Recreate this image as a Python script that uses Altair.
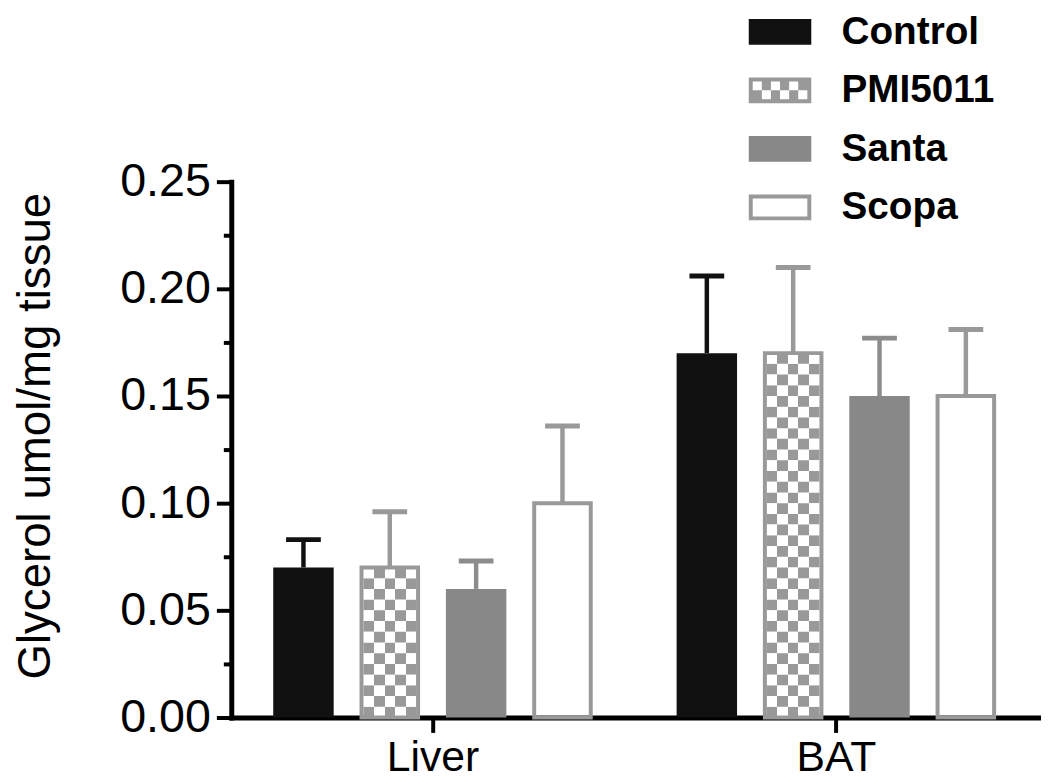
import altair as alt
import pandas as pd

# ---------------- data ----------------
tissues = ["Liver", "BAT"]
groups = ["Control", "PMI5011", "Santa", "Scopa"]
liver_mean = [0.070, 0.070, 0.060, 0.100]
liver_sem = [0.013, 0.026, 0.013, 0.036]
bat_mean = [0.170, 0.170, 0.150, 0.150]
bat_sem = [0.036, 0.040, 0.027, 0.031]
y_ticks = [0.0, 0.05, 0.10, 0.15, 0.20, 0.25]
y_minor = [0.025, 0.075, 0.125, 0.175, 0.225]

# ---------------- style ----------------
FONT = "Liberation Sans"
BLACK = "#111111"
GRAY = "#999999"
DARK = "#888888"
WHITE = "#ffffff"
fill_of = {"Control": BLACK, "PMI5011": WHITE, "Santa": DARK, "Scopa": WHITE}
line_of = {"Control": BLACK, "PMI5011": GRAY, "Santa": "#8c8c8c", "Scopa": GRAY}

rows = []
for t, means, sems in [("Liver", liver_mean, liver_sem), ("BAT", bat_mean, bat_sem)]:
    for g, m, s in zip(groups, means, sems):
        rows.append(dict(tissue=t, group=g, mean=m, upper=m + s,
                         fill=fill_of[g], line=line_of[g]))
df = pd.DataFrame(rows)

# checker-pattern rows for the PMI5011 bars (derived from the bar values)
CELL = 0.005
cells = []
for r in rows:
    if r["group"] != "PMI5011":
        continue
    k = 0
    while k * CELL < r["mean"] - 1e-9:
        cells.append(dict(tissue=r["tissue"], group=r["group"], y0=k * CELL,
                          y1=min((k + 1) * CELL, r["mean"]), parity=k % 2))
        k += 1
cell_df = pd.DataFrame(cells)


def stripes(first, second, n=5):
    stops = []
    for j in range(n):
        c = first if j % 2 == 0 else second
        stops.append(alt.GradientStop(color=c, offset=j / n))
        stops.append(alt.GradientStop(color=c, offset=(j + 1) / n))
    return alt.LinearGradient(gradient="linear", stops=stops, x1=0, x2=1, y1=0, y2=0)


# legend swatch shapes (custom symbol paths)
HW, HH, T = 1.05, 0.433, 0.1333


def rect(x0, y0, x1, y1):
    return f"M{x0:.3f},{y0:.3f}H{x1:.3f}V{y1:.3f}H{x0:.3f}Z"


def hole(x0, y0, x1, y1):
    return f"M{x0:.3f},{y0:.3f}V{y1:.3f}H{x1:.3f}V{y0:.3f}Z"


solid_path = rect(-HW, -HH, HW, HH)
frame_path = solid_path + hole(-HW + T, -HH + T, HW - T, HH - T)
ix0, iy0 = -HW + T, -HH + T
cw = 2 * (HW - T) / 6
ch = 2 * (HH - T) / 2
checker_path = frame_path
for rr in range(2):
    for cc in range(6):
        if (rr + cc) % 2 == 1:
            checker_path += rect(ix0 + cc * cw, iy0 + rr * ch, ix0 + (cc + 1) * cw, iy0 + (rr + 1) * ch)
legend_paths = [solid_path, checker_path, solid_path, frame_path]
legend_fill = [BLACK, GRAY, DARK, GRAY]

# ---------------- scales / encodings ----------------
W, H = 813, 540
x_scale = alt.Scale(domain=tissues, paddingInner=0, paddingOuter=0)
off_scale = alt.Scale(domain=groups, paddingInner=0.3, paddingOuter=0.486)
y_scale = alt.Scale(domain=[0, 0.25], nice=False, zero=True)

x_axis = alt.Axis(title=None, orient="bottom", labelAngle=0, tickSize=15, tickWidth=4,
                  tickColor="black", domainWidth=5, domainColor="black", domainCap="square",
                  labelFont=FONT, labelFontSize=43, labelColor="black", labelPadding=4,
                  grid=False)
X = alt.X("tissue:N", scale=x_scale, axis=x_axis)
XO = alt.XOffset("group:N", scale=off_scale)

y_axis = alt.Axis(orient="left", values=y_ticks, format=".2f", title="Glycerol umol/mg tissue",
                  tickSize=15, tickWidth=4, tickColor="black", domainWidth=5,
                  domainColor="black", domainCap="square", labelFont=FONT, labelFontSize=47,
                  labelColor="black", labelPadding=6, titleFont=FONT, titleFontSize=46,
                  titleFontWeight="normal", titleColor="black", titleX=-173, titleY=256,
                  titleAngle=270, titleBaseline="bottom", grid=False)
y_minor_axis = alt.Axis(orient="left", values=y_minor, labels=False, domain=False, title=None,
                        tickSize=8, tickWidth=4, tickColor="black", grid=False)

leg = alt.Legend(orient="none", legendX=523, legendY=-181, title=None, direction="vertical",
                 symbolSize=3600, symbolStrokeWidth=0, labelFont=FONT, labelFontSize=39,
                 labelFontWeight="bold", labelColor="black", labelOffset=32, rowPadding=9,
                 padding=0, labelLimit=400)

base = alt.Chart(df)

solid = base.transform_filter(
    alt.FieldOneOfPredicate(field="group", oneOf=["Control", "Santa"])
).mark_bar().encode(
    x=X,
    xOffset=XO,
    y=alt.Y("mean:Q", scale=y_scale, axis=y_axis),
    fill=alt.Fill("fill:N", scale=None),
)

checker_layers = []
for p, (a, b) in enumerate([(GRAY, WHITE), (WHITE, GRAY)]):
    checker_layers.append(
        alt.Chart(cell_df).transform_filter(alt.datum.parity == p).mark_bar(
            width=53, fill=stripes(a, b)
        ).encode(
            x=X,
            xOffset=XO,
            y=alt.Y("y0:Q", scale=y_scale, axis=None),
            y2="y1:Q",
        )
    )

outline = base.transform_filter(
    alt.FieldOneOfPredicate(field="group", oneOf=["PMI5011", "Scopa"])
).mark_bar(width=57, fillOpacity=0, strokeWidth=4).encode(
    x=X,
    xOffset=XO,
    y=alt.Y("mean:Q", scale=y_scale, axis=None),
    stroke=alt.Stroke("line:N", scale=None),
)

err = base.mark_rule(strokeWidth=4.5).encode(
    x=X,
    xOffset=XO,
    y=alt.Y("mean:Q", scale=y_scale, axis=None),
    y2="upper:Q",
    stroke=alt.Stroke("line:N", scale=None),
)

caps = base.mark_tick(size=35, thickness=5, opacity=1).encode(
    x=X,
    xOffset=XO,
    y=alt.Y("upper:Q", scale=y_scale, axis=None),
    color=alt.Color("line:N", scale=None),
)

pts = base.mark_point(filled=True, size=0, opacity=1).encode(
    x=X,
    xOffset=XO,
    y=alt.Y("mean:Q", scale=y_scale, axis=y_minor_axis),
    fill=alt.Fill("group:N", scale=alt.Scale(domain=groups, range=legend_fill), legend=leg),
    shape=alt.Shape("group:N", scale=alt.Scale(domain=groups, range=legend_paths), legend=leg),
)

chart = alt.layer(solid, *checker_layers, outline, err, caps, pts).resolve_axis(
    y="independent"
).properties(
    width=W,
    height=H,
    autosize=alt.AutoSizeParams(type="none"),
    padding={"left": 225, "top": 172, "right": 4, "bottom": 64},
).configure_view(stroke=None)

chart.save("out.html", embed_options={"renderer": "svg", "actions": False})
